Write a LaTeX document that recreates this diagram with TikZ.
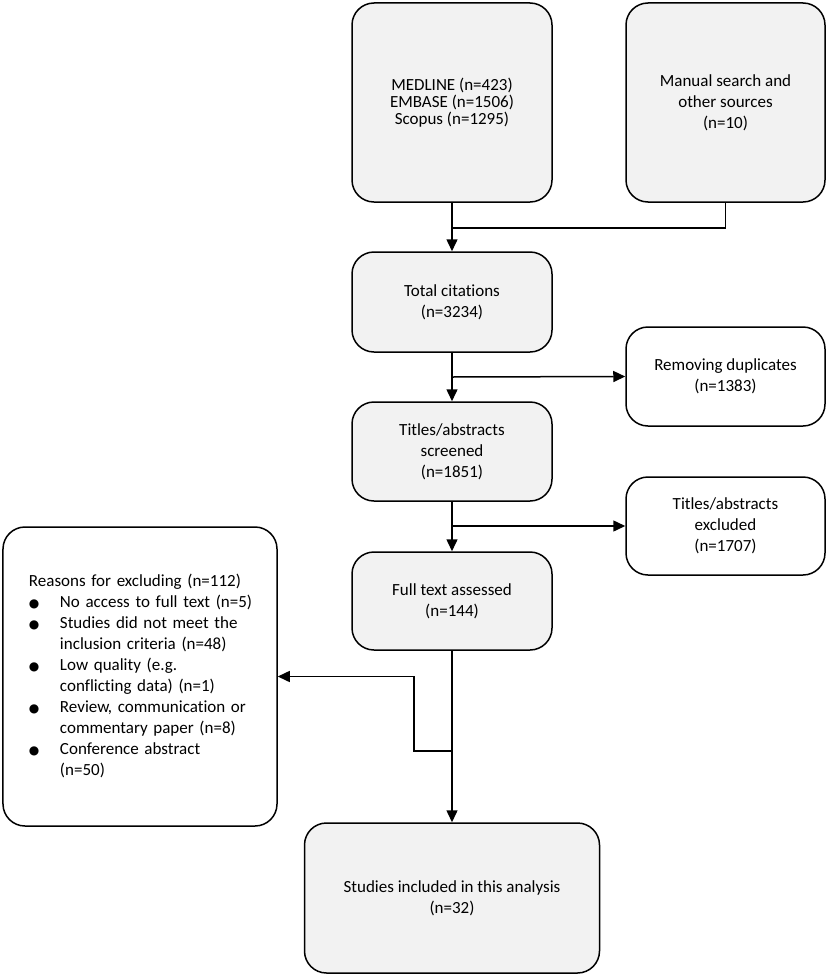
\documentclass[tikz,border=0pt]{standalone}
\usepackage{fontspec}
\setmainfont{Carlito}[Ligatures=NoCommon]
\newfontfamily\dejavu{DejaVu Sans}
\usetikzlibrary{arrows.meta}
\definecolor{boxfill}{HTML}{F2F2F2}
\newcommand{\bigbul}{{\dejavu\fontsize{12bp}{21bp}\selectfont ●}}
\tikzset{
  box/.style={draw=black, line width=1.5bp, rounded corners=22bp, align=center, inner sep=0pt,
    font=\fontsize{17bp}{21bp}\selectfont},
  gbox/.style={box, fill=boxfill},
  wbox/.style={box, fill=white},
  arr/.style={line width=1.5bp, -{Triangle[length=12bp,width=11bp]}},
  ln/.style={line width=1.5bp}
}
\begin{document}
\begin{tikzpicture}[x=1bp,y=-1bp]
\useasboundingbox (0,0) rectangle (829,978);
\node[gbox, minimum width=200bp, minimum height=199bp, font=\fontsize{17bp}{17bp}\selectfont] (med) at (452,102.5) {MEDLINE (n=423)\\EMBASE (n=1506)\\Scopus (n=1295)};
\node[gbox, minimum width=199bp, minimum height=199bp] (man) at (725.5,102.5) {Manual search and\\other sources\\(n=10)};
\node[gbox, minimum width=200bp, minimum height=100bp] (tot) at (452,302) {Total citations\\(n=3234)};
\node[wbox, minimum width=199bp, minimum height=99bp] (dup) at (725.5,376.5) {Removing duplicates\\(n=1383)};
\node[gbox, minimum width=200bp, minimum height=99bp] (scr) at (452,451.5) {Titles/abstracts\\screened\\(n=1851)};
\node[wbox, minimum width=199bp, minimum height=98bp] (exc) at (725.5,526) {Titles/abstracts\\excluded\\(n=1707)};
\node[gbox, minimum width=200bp, minimum height=98bp] (full) at (452,601) {Full text assessed\\(n=144)};
\node[wbox, minimum width=274bp, minimum height=299bp, text width=222bp, inner xsep=26bp, align=left] (rea) at (140,676.5) {%
\begin{tabular}{@{}p{31bp}@{}l@{}}
\multicolumn{2}{@{}l@{}}{Reasons for excluding (n=112)}\\
\bigbul & No access to full text (n=5)\\
\bigbul & Studies did not meet the\\
 & inclusion criteria (n=48)\\
\bigbul & Low quality (e.g.\\
 & conflicting data) (n=1)\\
\bigbul & Review, communication or\\
 & commentary paper (n=8)\\
\bigbul & Conference abstract\\
 & (n=50)
\end{tabular}};
\node[gbox, minimum width=295bp, minimum height=150bp] (stu) at (452,898) {Studies included in this analysis\\(n=32)};
\coordinate (j1) at (452,228);
\coordinate (j2) at (452,377);
\coordinate (j3) at (452,526);
\coordinate (j4) at (452,751);
\coordinate (k) at (414,751);
\draw[arr] (med.south) -- (tot.north);
\draw[ln] (man.south) |- (j1);
\draw[arr] (tot.south) -- (scr.north);
\draw[arr] (j2) -- (dup.west);
\draw[arr] (scr.south) -- (full.north);
\draw[arr] (j3) -- (exc.west);
\draw[arr] (full.south) -- (stu.north);
\draw[arr] (j4) -- (k) |- (rea.east);
\end{tikzpicture}
\end{document}
